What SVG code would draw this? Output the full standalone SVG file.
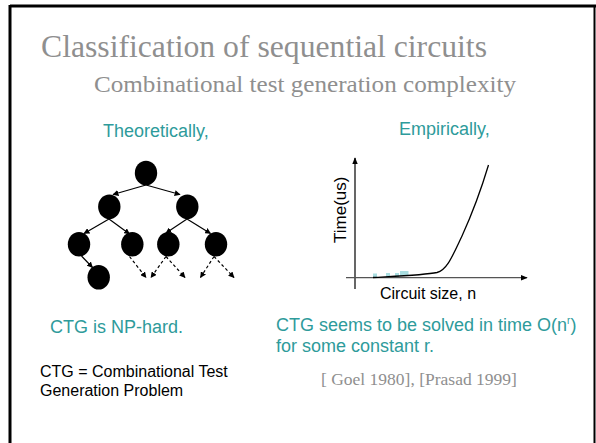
<svg xmlns="http://www.w3.org/2000/svg" width="596" height="443" viewBox="0 0 596 443">
<defs>
<style>
.serif{font-family:"Liberation Serif","Times New Roman",serif;fill:#8f8f8f}
.teal{font-family:"Liberation Sans",Arial,sans-serif;fill:#2e9b9b;font-size:18px}
.blk{font-family:"Liberation Sans",Arial,sans-serif;fill:#000}
.node{fill:#000}
.edge{stroke:#000;stroke-width:1.2;fill:none;marker-end:url(#ah)}
.dash{stroke:#000;stroke-width:1.2;fill:none;stroke-dasharray:3,2.5;marker-end:url(#ah)}
</style>
<marker id="ah" viewBox="0 0 10 10" refX="9" refY="5" markerWidth="5" markerHeight="5" orient="auto" markerUnits="strokeWidth">
<path d="M0,0 L10,5 L0,10 z" fill="#000"/>
</marker>
<marker id="ax" viewBox="0 0 10 10" refX="9" refY="5" markerWidth="6" markerHeight="6" orient="auto" markerUnits="strokeWidth">
<path d="M0,1 L10,5 L0,9 z" fill="#000"/>
</marker>
</defs>
<rect width="596" height="443" fill="#fff"/>
<g id="frame" stroke="#000" fill="none">
<line x1="10" y1="6" x2="596" y2="6" stroke-width="3"/>
<line x1="10" y1="5" x2="10" y2="443" stroke-width="3"/>
<line x1="594.5" y1="6" x2="594.5" y2="443" stroke-width="2"/>
</g>
<g id="titles">
<text class="serif" x="41" y="57" font-size="31.5" textLength="446" lengthAdjust="spacingAndGlyphs">Classification of  sequential circuits</text>
<text class="serif" x="94" y="92" font-size="24" textLength="422" lengthAdjust="spacingAndGlyphs">Combinational test generation complexity</text>
</g>
<g id="headings">
<text class="teal" x="103" y="137">Theoretically,</text>
<text class="teal" x="399" y="135">Empirically,</text>
</g>
<g id="connectors">
<line class="edge" x1="146" y1="185" x2="113" y2="194.5"/>
<line class="edge" x1="146" y1="185" x2="180" y2="194.5"/>
<line class="edge" x1="109" y1="219" x2="84" y2="233.5"/>
<line class="edge" x1="109" y1="219" x2="129.5" y2="234"/>
<line class="edge" x1="187" y1="219" x2="166" y2="233"/>
<line class="edge" x1="187" y1="219" x2="210.5" y2="233.5"/>
<line class="edge" x1="81.5" y1="256" x2="92.5" y2="267.5"/>
<line class="dash" x1="129.5" y1="256.5" x2="146" y2="277.5"/>
<line class="dash" x1="166" y1="256.5" x2="151" y2="277.5"/>
<line class="dash" x1="166" y1="256.5" x2="185" y2="277.5"/>
<line class="dash" x1="214" y1="256.5" x2="200.5" y2="277.5"/>
<line class="dash" x1="214" y1="256.5" x2="234" y2="277.5"/>
</g>
<g id="n1"><ellipse class="node" cx="146" cy="173" rx="11.2" ry="12.3"/></g>
<g id="n2"><ellipse class="node" cx="109.3" cy="206.7" rx="11.2" ry="12.3"/></g>
<g id="n3"><ellipse class="node" cx="187.3" cy="206.7" rx="11.2" ry="12.3"/></g>
<g id="n4"><ellipse class="node" cx="79" cy="244.3" rx="11.2" ry="12.3"/></g>
<g id="n5"><ellipse class="node" cx="132.3" cy="244.3" rx="11.2" ry="12.3"/></g>
<g id="n6"><ellipse class="node" cx="168.3" cy="244.3" rx="11.2" ry="12.3"/></g>
<g id="n7"><ellipse class="node" cx="216" cy="244.3" rx="11.2" ry="12.3"/></g>
<g id="n8"><ellipse class="node" cx="98.7" cy="277.3" rx="11.2" ry="12.3"/></g>
<g id="chart">
<line x1="355" y1="289" x2="355" y2="158" stroke="#000" stroke-width="1.2" marker-end="url(#ax)"/>
<line x1="346" y1="277.7" x2="527" y2="277.7" stroke="#555" stroke-width="1.2" marker-end="url(#ax)"/>
<g fill="#a9dde0">
<rect x="373" y="273.5" width="4" height="3.5"/>
<rect x="386" y="273" width="4" height="4"/>
<rect x="395" y="273" width="4" height="4"/>
<rect x="400" y="271" width="8.5" height="5"/>
</g>
<path d="M373,277.5 C400,276 425,275 437,272.5 C447,270 452,257 462,236 C472,214 481,190 488.5,165" fill="none" stroke="#000" stroke-width="1.3"/>
<text class="blk" font-size="17" transform="translate(346,243) rotate(-90)">Time(us)</text>
<text class="blk" x="380" y="299" font-size="16">Circuit size, n</text>
</g>
<g id="notes">
<text class="teal" x="50" y="333">CTG is NP-hard.</text>
<text class="teal" x="276" y="331">CTG seems to be solved in time O(n<tspan font-size="10" dy="-7">r</tspan><tspan dy="7">)</tspan></text>
<text class="teal" x="276" y="352">for some constant r.</text>
<text class="blk" x="40" y="377" font-size="16">CTG = Combinational Test</text>
<text class="blk" x="40" y="396" font-size="16">Generation Problem</text>
<text class="serif" x="321" y="385" font-size="17.5" fill="#999">[ Goel 1980], [Prasad 1999]</text>
</g>
</svg>
